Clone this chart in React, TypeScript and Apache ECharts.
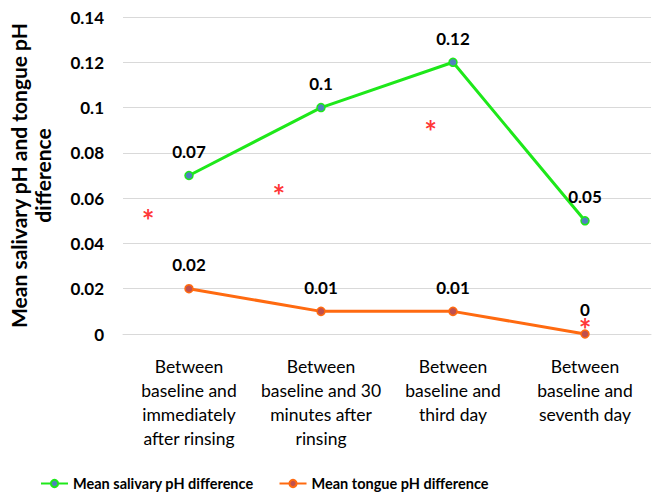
import React, { useEffect, useRef } from "react";
import * as echarts from "echarts";

const categories = [
  "Between\nbaseline and\nimmediately\nafter rinsing",
  "Between\nbaseline and 30\nminutes after\nrinsing",
  "Between\nbaseline and\nthird day",
  "Between\nbaseline and\nseventh day",
];
const salivaryDiff = [0.07, 0.1, 0.12, 0.05];
const tongueDiff = [0.02, 0.01, 0.01, 0];
const yTicks = [0, 0.02, 0.04, 0.06, 0.08, 0.1, 0.12, 0.14];
// significance markers: [category position, value]
const starX = [-0.31, 0.68, 1.83, 3.0];
const starY = [0.0505, 0.0615, 0.0895, 0.002];

const FONT = "Lato, 'Open Sans', sans-serif";

export default function App() {
  const ref = useRef<HTMLDivElement>(null);
  useEffect(() => {
    if (!ref.current) return;
    const chart = echarts.init(ref.current, null, { renderer: "svg" });
    const dataLabel = {
      show: true,
      position: "top",
      distance: 11,
      color: "#000",
      fontWeight: "bold",
      fontSize: 17,
      fontFamily: FONT,
    };
    chart.setOption({
      animation: false,
      backgroundColor: "#fff",
      textStyle: { fontFamily: FONT },
      grid: { left: 123, right: 13, top: 17, bottom: 169, outerBoundsMode: "none" },
      legend: {
        bottom: 7,
        left: 35,
        itemWidth: 27,
        itemHeight: 9,
        itemGap: 25,
        textStyle: { color: "#000", fontWeight: "bold", fontSize: 14.5, fontFamily: FONT },
        data: ["Mean salivary pH difference", "Mean tongue pH difference"],
      },
      xAxis: [
        {
          type: "category",
          data: categories,
          axisLine: { show: true, lineStyle: { color: "#d9d9d9" } },
          axisTick: { show: false },
          axisLabel: {
            interval: 0,
            color: "#000",
            fontSize: 17.5,
            lineHeight: 24,
            margin: 20,
            fontFamily: FONT,
          },
        },
        {
          type: "value",
          min: -0.5,
          max: 3.5,
          show: false,
        },
      ],
      yAxis: {
        type: "value",
        min: 0,
        max: 0.14,
        interval: 0.02,
        name: "Mean salivary pH and tongue pH\ndifference",
        nameLocation: "middle",
        nameGap: 69,
        nameTextStyle: {
          color: "#000",
          fontWeight: "bold",
          fontSize: 21,
          lineHeight: 24,
          fontFamily: FONT,
        },
        axisLine: { show: false },
        axisTick: { show: false },
        splitLine: { show: true, lineStyle: { color: "#d9d9d9" } },
        axisLabel: {
          color: "#000",
          fontWeight: "bold",
          fontSize: 17,
          margin: 19,
          fontFamily: FONT,
          formatter: (v: number) => {
            const t = yTicks.find((x) => Math.abs(x - v) < 1e-9);
            return String(t ?? v);
          },
        },
      },
      series: [
        {
          name: "Mean salivary pH difference",
          type: "line",
          data: salivaryDiff,
          symbol: "circle",
          symbolSize: 8,
          lineStyle: { color: "#1ee81a", width: 3 },
          itemStyle: { color: "#4f81bd", borderColor: "#1ee81a", borderWidth: 1.5 },
          label: dataLabel,
          z: 3,
        },
        {
          name: "Mean tongue pH difference",
          type: "line",
          data: tongueDiff,
          symbol: "circle",
          symbolSize: 8,
          lineStyle: { color: "#ff6a10", width: 3 },
          itemStyle: { color: "#c0504d", borderColor: "#ff6a10", borderWidth: 1.5 },
          label: dataLabel,
          z: 3,
        },
        {
          name: "significance",
          type: "scatter",
          xAxisIndex: 1,
          data: starX.map((x, i) => [x, starY[i]]),
          symbolSize: 1,
          itemStyle: { color: "rgba(0,0,0,0)" },
          label: {
            show: true,
            position: "inside",
            formatter: "*",
            color: "#ff0000",
            fontSize: 30,
            fontWeight: "bold",
            fontFamily: FONT,
          },
          z: 4,
          silent: true,
        },
      ],
    });
    return () => chart.dispose();
  }, []);
  return (
    <div
      ref={ref}
      style={{ position: "absolute", left: 0, top: 0, width: 664, height: 503 }}
    />
  );
}
